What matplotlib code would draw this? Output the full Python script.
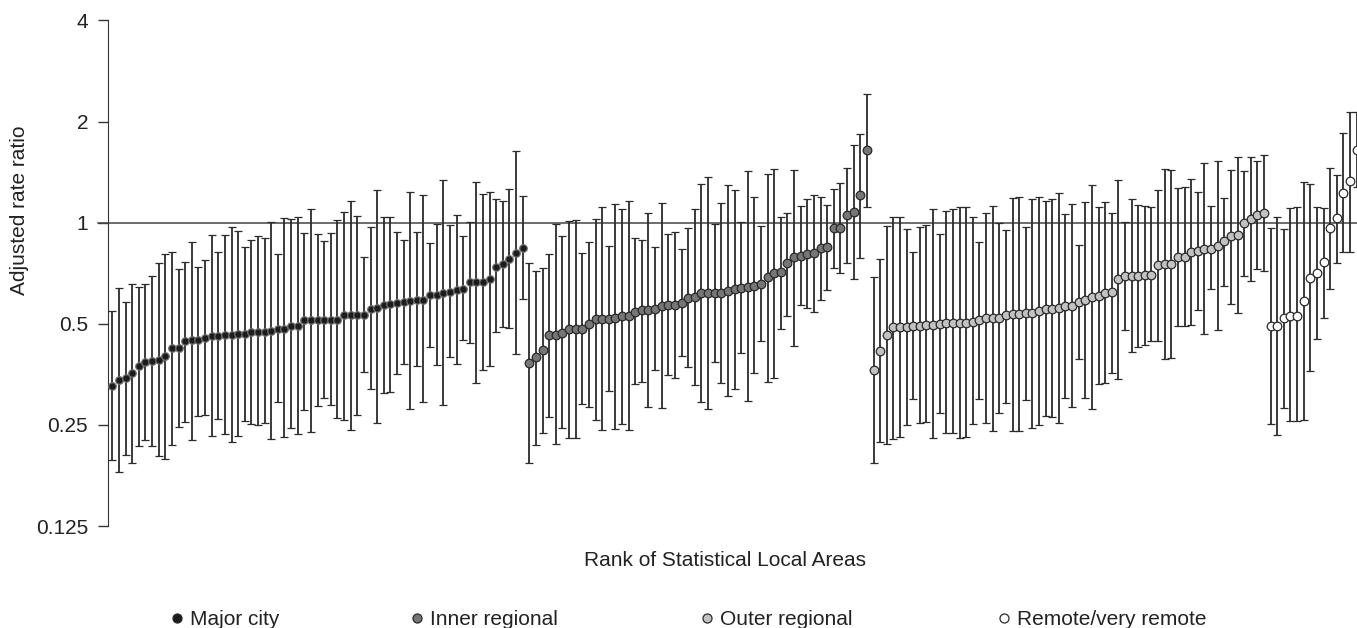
import matplotlib
matplotlib.use("Agg")
import matplotlib.pyplot as plt
from matplotlib.lines import Line2D
import numpy as np

plt.rcParams['font.family'] = ['Liberation Sans', 'DejaVu Sans']

# adjusted rate ratios (point, lower, upper) per remoteness group, in rank order
major_rr = [0.327, 0.340, 0.345, 0.356, 0.374, 0.385, 0.387, 0.390, 0.402, 0.424,
            0.424, 0.444, 0.446, 0.447, 0.455, 0.459, 0.459, 0.463, 0.463, 0.465,
            0.465, 0.473, 0.474, 0.474, 0.477, 0.484, 0.484, 0.492, 0.492, 0.513,
            0.513, 0.513, 0.513, 0.513, 0.513, 0.531, 0.531, 0.531, 0.531, 0.555,
            0.559, 0.567, 0.571, 0.575, 0.579, 0.583, 0.589, 0.589, 0.609, 0.609,
            0.616, 0.621, 0.629, 0.633, 0.665, 0.665, 0.665, 0.682, 0.739, 0.751,
            0.778, 0.814, 0.842]
major_lo = [0.196, 0.181, 0.204, 0.193, 0.217, 0.226, 0.217, 0.202, 0.198, 0.218,
            0.247, 0.255, 0.225, 0.266, 0.268, 0.231, 0.260, 0.235, 0.222, 0.231,
            0.256, 0.252, 0.249, 0.254, 0.227, 0.293, 0.230, 0.244, 0.235, 0.276,
            0.238, 0.285, 0.300, 0.286, 0.263, 0.258, 0.241, 0.268, 0.359, 0.319,
            0.253, 0.311, 0.313, 0.354, 0.379, 0.278, 0.375, 0.293, 0.427, 0.377,
            0.286, 0.397, 0.380, 0.447, 0.437, 0.334, 0.365, 0.375, 0.473, 0.490,
            0.486, 0.406, 0.591]
major_hi = [0.547, 0.637, 0.580, 0.659, 0.645, 0.656, 0.693, 0.757, 0.806, 0.820,
            0.726, 0.765, 0.878, 0.739, 0.774, 0.917, 0.820, 0.919, 0.968, 0.944,
            0.848, 0.888, 0.912, 0.902, 1.007, 0.805, 1.030, 1.023, 1.042, 0.934,
            1.101, 0.925, 0.884, 0.929, 1.018, 1.078, 1.158, 1.047, 0.788, 0.973,
            1.251, 1.037, 1.042, 0.938, 0.888, 1.234, 0.940, 1.209, 0.872, 0.991,
            1.340, 0.982, 1.052, 0.912, 1.007, 1.322, 1.220, 1.234, 1.174, 1.163,
            1.257, 1.639, 1.201]

inner_rr = [0.383, 0.397, 0.419, 0.463, 0.463, 0.471, 0.481, 0.481, 0.484, 0.498,
            0.516, 0.517, 0.517, 0.522, 0.527, 0.529, 0.543, 0.549, 0.549, 0.555,
            0.566, 0.567, 0.567, 0.578, 0.596, 0.599, 0.616, 0.616, 0.616, 0.619,
            0.627, 0.633, 0.637, 0.642, 0.650, 0.656, 0.687, 0.706, 0.713, 0.760,
            0.788, 0.796, 0.806, 0.814, 0.840, 0.848, 0.962, 0.962, 1.054, 1.076,
            1.206, 1.647]
inner_lo = [0.193, 0.218, 0.237, 0.264, 0.220, 0.245, 0.228, 0.229, 0.289, 0.282,
            0.259, 0.242, 0.316, 0.243, 0.251, 0.242, 0.330, 0.336, 0.283, 0.364,
            0.280, 0.351, 0.344, 0.400, 0.371, 0.328, 0.292, 0.279, 0.385, 0.334,
            0.305, 0.319, 0.409, 0.295, 0.357, 0.443, 0.335, 0.346, 0.484, 0.529,
            0.429, 0.570, 0.558, 0.543, 0.588, 0.630, 0.734, 0.706, 0.760, 0.678,
            0.786, 1.114]
inner_hi = [0.760, 0.719, 0.731, 0.806, 0.991, 0.915, 1.014, 1.018, 0.814, 0.878,
            1.023, 1.114, 0.852, 1.137, 1.096, 1.160, 0.898, 0.890, 1.071, 0.848,
            1.142, 0.925, 0.938, 0.835, 0.966, 1.101, 1.301, 1.368, 0.991, 1.145,
            1.292, 1.251, 1.005, 1.429, 1.193, 0.977, 1.393, 1.442, 1.042, 1.071,
            1.436, 1.121, 1.179, 1.209, 1.195, 1.132, 1.263, 1.310, 1.455, 1.700,
            1.833, 2.418]

outer_rr = [0.364, 0.415, 0.464, 0.488, 0.488, 0.490, 0.493, 0.493, 0.495, 0.495,
            0.500, 0.503, 0.503, 0.503, 0.503, 0.507, 0.513, 0.520, 0.520, 0.520,
            0.532, 0.533, 0.533, 0.537, 0.539, 0.547, 0.555, 0.555, 0.557, 0.564,
            0.564, 0.579, 0.588, 0.600, 0.604, 0.619, 0.621, 0.678, 0.693, 0.693,
            0.693, 0.698, 0.698, 0.748, 0.751, 0.751, 0.788, 0.792, 0.820, 0.825,
            0.833, 0.837, 0.852, 0.880, 0.912, 0.919, 0.995, 1.023, 1.052, 1.071]
outer_lo = [0.192, 0.223, 0.219, 0.227, 0.230, 0.249, 0.299, 0.253, 0.255, 0.228,
            0.271, 0.236, 0.236, 0.228, 0.230, 0.252, 0.299, 0.253, 0.240, 0.272,
            0.291, 0.239, 0.239, 0.296, 0.245, 0.250, 0.265, 0.264, 0.253, 0.300,
            0.283, 0.392, 0.301, 0.279, 0.330, 0.334, 0.356, 0.342, 0.480, 0.411,
            0.427, 0.432, 0.445, 0.445, 0.392, 0.396, 0.492, 0.492, 0.495, 0.549,
            0.466, 0.633, 0.479, 0.649, 0.574, 0.537, 0.692, 0.669, 0.726, 0.716]
outer_hi = [0.690, 0.778, 0.980, 1.042, 1.037, 0.960, 0.820, 0.968, 0.982, 1.096,
            0.925, 1.083, 1.096, 1.116, 1.116, 1.037, 0.878, 1.071, 1.124, 0.995,
            0.951, 1.187, 1.195, 0.973, 1.174, 1.195, 1.163, 1.174, 1.229, 1.061,
            1.134, 0.860, 1.155, 1.295, 1.116, 1.155, 1.071, 1.340, 1.005, 1.179,
            1.129, 1.121, 1.114, 1.251, 1.445, 1.439, 1.271, 1.277, 1.349, 1.234,
            1.503, 1.121, 1.530, 1.182, 1.436, 1.566, 1.429, 1.573, 1.530, 1.595]

remote_rr = [0.493, 0.493, 0.522, 0.529, 0.529, 0.584, 0.686, 0.710, 0.763, 0.962,
             1.035, 1.229, 1.334, 1.647]
remote_lo = [0.252, 0.233, 0.281, 0.256, 0.257, 0.258, 0.361, 0.452, 0.521, 0.636,
             0.760, 0.820, 0.820, 1.274]
remote_hi = [0.962, 1.042, 0.955, 1.106, 1.116, 1.325, 1.304, 1.116, 1.103, 1.452,
             1.387, 1.846, 2.142, 2.130]

groups = ['Major city', 'Inner regional', 'Outer regional', 'Remote/very remote']
faces = ['#1c1c1c', '#767676', '#c2c2c2', 'white']
edges = ['#6e6e6e', '#2a2a2a', '#2a2a2a', '#2a2a2a']
sizes = [5.4, 6.2, 6.2, 6.2]
series = [(major_rr, major_lo, major_hi), (inner_rr, inner_lo, inner_hi),
          (outer_rr, outer_lo, outer_hi), (remote_rr, remote_lo, remote_hi)]

fig = plt.figure(figsize=(13.57, 6.28), dpi=100)
ax = fig.add_axes([0.0794, 0.1624, 0.9206, 0.805])

start = 1
for (rr, lo, hi), fc, ec, ms in zip(series, faces, edges, sizes):
    rr, lo, hi = np.array(rr), np.array(lo), np.array(hi)
    x = np.arange(start, start + len(rr))
    ax.errorbar(x, rr, yerr=[rr - lo, hi - rr], fmt='o', ms=ms, mfc=fc, mec=ec,
                mew=0.9, ecolor='#2b2b2b', elinewidth=1.3, capsize=2.8,
                capthick=1.3, zorder=3)
    start += len(rr)

ax.axhline(1, xmin=-0.008, xmax=1, color='#444444', lw=1.1, clip_on=False, zorder=2)

ax.set_yscale('log', base=2)
ax.set_ylim(0.125, 4)
ax.set_xlim(0.3, start - 1 + 0.05)
ticks = [0.125, 0.25, 0.5, 1, 2, 4]
ax.set_yticks(ticks)
ax.set_yticklabels(['0.125', '0.25', '0.5', '1', '2', '4'])
ax.minorticks_off()
ax.set_xticks([])
for s in ['top', 'right', 'bottom']:
    ax.spines[s].set_visible(False)
ax.spines['left'].set_color('#333333')
ax.tick_params(axis='y', direction='out', length=7.2, width=1, color='#333333',
               labelsize=15, labelcolor='#222222', pad=7)

fig.text(20 / 1357, 1 - 210 / 628, 'Adjusted rate ratio', rotation=90,
         ha='center', va='center', fontsize=15, color='#222222')
fig.text(724.5 / 1357, 1 - 566 / 628, 'Rank of Statistical Local Areas',
         ha='center', va='baseline', fontsize=15, color='#222222')

# legend along the bottom
leg_x = [177, 417, 707, 1004]
for name, fc, lx in zip(groups, faces, leg_x):
    fig.add_artist(Line2D([lx / 1357], [1 - 618 / 628], marker='o', ms=6.5,
                          mfc=fc, mec='#2a2a2a', mew=0.9, ls='none',
                          transform=fig.transFigure))
    fig.text((lx + 13) / 1357, 1 - 625 / 628, name, ha='left', va='baseline',
             fontsize=15, color='#222222')

fig.savefig('out.png', dpi=100)
